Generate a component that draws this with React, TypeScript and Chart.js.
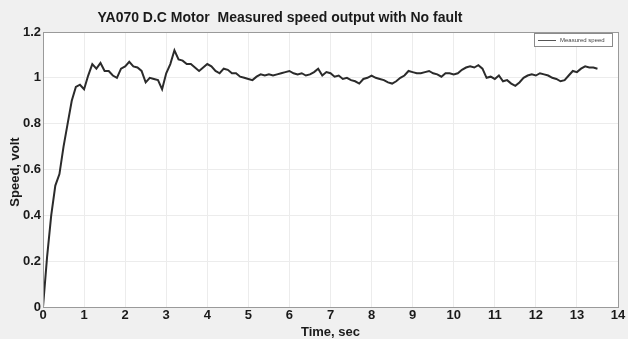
import React, { useEffect, useRef } from "react";
import { Chart, registerables } from "chart.js";

Chart.register(...registerables);

const chartTitle = "YA070 D.C Motor  Measured speed output with No fault";
const xAxisTitle = "Time, sec";
const yAxisTitle = "Speed, volt";
const seriesLabel = "Measured speed";

const timeSec = [
  0.0, 0.1, 0.2, 0.3, 0.4, 0.5, 0.6, 0.7, 0.8, 0.9,
  1.0, 1.1, 1.2, 1.3, 1.4, 1.5, 1.6, 1.7, 1.8, 1.9,
  2.0, 2.1, 2.2, 2.3, 2.4, 2.5, 2.6, 2.7, 2.8, 2.9,
  3.0, 3.1, 3.2, 3.3, 3.4, 3.5, 3.6, 3.7, 3.8, 3.9,
  4.0, 4.1, 4.2, 4.3, 4.4, 4.5, 4.6, 4.7, 4.8, 4.9,
  5.0, 5.1, 5.2, 5.3, 5.4, 5.5, 5.6, 5.7, 5.8, 5.9,
  6.0, 6.1, 6.2, 6.3, 6.4, 6.5, 6.6, 6.7, 6.8, 6.9,
  7.0, 7.1, 7.2, 7.3, 7.4, 7.5, 7.6, 7.7, 7.8, 7.9,
  8.0, 8.1, 8.2, 8.3, 8.4, 8.5, 8.6, 8.7, 8.8, 8.9,
  9.0, 9.1, 9.2, 9.3, 9.4, 9.5, 9.6, 9.7, 9.8, 9.9,
  10.0, 10.1, 10.2, 10.3, 10.4, 10.5, 10.6, 10.7, 10.8, 10.9,
  11.0, 11.1, 11.2, 11.3, 11.4, 11.5, 11.6, 11.7, 11.8, 11.9,
  12.0, 12.1, 12.2, 12.3, 12.4, 12.5, 12.6, 12.7, 12.8, 12.9,
  13.0, 13.1, 13.2, 13.3, 13.4, 13.5,
];

const speedVolt = [
  0.0, 0.22, 0.4, 0.53, 0.58, 0.7, 0.8, 0.9, 0.96, 0.97,
  0.95, 1.01, 1.06, 1.04, 1.065, 1.03, 1.03, 1.01, 1.0, 1.04,
  1.05, 1.07, 1.05, 1.045, 1.03, 0.98, 1.0, 0.995, 0.99, 0.95,
  1.02, 1.06, 1.12, 1.08, 1.075, 1.06, 1.06, 1.045, 1.03, 1.045,
  1.06, 1.05, 1.03, 1.02, 1.04, 1.035, 1.02, 1.02, 1.005, 1.0,
  0.995, 0.99, 1.005, 1.015, 1.01, 1.015, 1.01, 1.015, 1.02, 1.025,
  1.03, 1.02, 1.015, 1.02, 1.01, 1.015, 1.025, 1.04, 1.01, 1.025,
  1.02, 1.005, 1.01, 0.995, 1.0, 0.99, 0.985, 0.975, 0.995, 1.0,
  1.01, 1.0, 0.995, 0.99, 0.98, 0.975, 0.985, 1.0, 1.01, 1.03,
  1.025, 1.02, 1.02, 1.025, 1.03, 1.02, 1.015, 1.005, 1.02, 1.02,
  1.015, 1.02, 1.035, 1.045, 1.05, 1.045, 1.055, 1.04, 1.0, 1.005,
  0.995, 1.01, 0.985, 0.99, 0.975, 0.965, 0.98, 1.0, 1.01, 1.015,
  1.01, 1.02, 1.015, 1.01, 1.0, 0.995, 0.985, 0.99, 1.01, 1.03,
  1.025, 1.04, 1.05, 1.045, 1.045, 1.04,
];

const xMin = 0;
const xMax = 14;
const xStep = 1;
const yMin = 0;
const yMax = 1.2;
const yStep = 0.2;

const FONT = "'Liberation Sans', Arial, sans-serif";

const decorPlugin = {
  id: "decor",
  beforeDraw(chart: any) {
    const { ctx, chartArea } = chart;
    ctx.save();
    ctx.fillStyle = "#f0f0f0";
    ctx.fillRect(0, 0, chart.width, chart.height);
    ctx.fillStyle = "#ffffff";
    ctx.fillRect(chartArea.left, chartArea.top, chartArea.right - chartArea.left, chartArea.bottom - chartArea.top);
    ctx.restore();
  },
  afterDraw(chart: any) {
    const { ctx, chartArea } = chart;
    ctx.save();
    // frame
    ctx.strokeStyle = "#9a9a9a";
    ctx.lineWidth = 1;
    ctx.strokeRect(
      Math.round(chartArea.left) + 0.5,
      Math.round(chartArea.top) + 0.5,
      Math.round(chartArea.right - chartArea.left),
      Math.round(chartArea.bottom - chartArea.top)
    );
    // title
    ctx.fillStyle = "#1a1a1a";
    ctx.font = `bold 14px ${FONT}`;
    ctx.textAlign = "center";
    ctx.textBaseline = "middle";
    ctx.fillText(chartTitle, 280, 18);
    // x axis title
    ctx.font = `bold 13px ${FONT}`;
    ctx.fillText(xAxisTitle, (chartArea.left + chartArea.right) / 2, 332);
    // y axis title
    ctx.save();
    ctx.translate(15, 172);
    ctx.rotate(-Math.PI / 2);
    ctx.fillText(yAxisTitle, 0, 0);
    ctx.restore();
    // legend box
    const bx = chartArea.right - 84;
    const by = chartArea.top + 1;
    const bw = 78;
    const bh = 13;
    ctx.fillStyle = "#ffffff";
    ctx.fillRect(bx, by, bw, bh);
    ctx.strokeStyle = "#8a8a8a";
    ctx.lineWidth = 1;
    ctx.strokeRect(bx + 0.5, by + 0.5, bw, bh);
    ctx.strokeStyle = "#555";
    ctx.beginPath();
    ctx.moveTo(bx + 4, by + 7.5);
    ctx.lineTo(bx + 22, by + 7.5);
    ctx.stroke();
    ctx.fillStyle = "#444";
    ctx.font = `6px ${FONT}`;
    ctx.textAlign = "left";
    ctx.fillText(seriesLabel, bx + 26, by + 7.5);
    ctx.restore();
  },
};

export default function App() {
  const canvasRef = useRef<HTMLCanvasElement | null>(null);

  useEffect(() => {
    if (!canvasRef.current) return;
    const points = timeSec.map((t, i) => ({ x: t, y: speedVolt[i] }));
    const chart = new Chart(canvasRef.current, {
      type: "line",
      data: {
        datasets: [
          {
            label: seriesLabel,
            data: points,
            borderColor: "#2b2b2b",
            borderWidth: 2,
            pointRadius: 0,
            tension: 0,
            fill: false,
          },
        ],
      },
      options: {
        animation: false,
        responsive: true,
        maintainAspectRatio: false,
        layout: { padding: { top: 32, right: 10, left: 0, bottom: 0 } },
        plugins: {
          legend: { display: false },
          title: { display: false },
          tooltip: { enabled: false },
        },
        scales: {
          x: {
            type: "linear",
            min: xMin,
            max: xMax,
            afterFit: (s: any) => {
              s.height = 32;
            },
            ticks: {
              stepSize: xStep,
              padding: 1,
              color: "#1a1a1a",
              font: { family: FONT, size: 13, weight: "bold" },
              maxRotation: 0,
            },
            grid: { color: "#ececec", drawTicks: false },
            border: { color: "#8a8a8a", width: 1 },
          },
          y: {
            type: "linear",
            min: yMin,
            max: yMax,
            afterFit: (s: any) => {
              s.width = 43;
            },
            ticks: {
              stepSize: yStep,
              padding: 2,
              color: "#1a1a1a",
              font: { family: FONT, size: 13, weight: "bold" },
              callback: (v: any) => String(Math.round(Number(v) * 10) / 10),
            },
            grid: { color: "#ececec", drawTicks: false },
            border: { color: "#8a8a8a", width: 1 },
          },
        },
      },
      plugins: [decorPlugin],
    });
    return () => chart.destroy();
  }, []);

  return (
    <div style={{ position: "fixed", left: 0, top: 0, width: 628, height: 339, background: "#f0f0f0" }}>
      <canvas ref={canvasRef} />
    </div>
  );
}
